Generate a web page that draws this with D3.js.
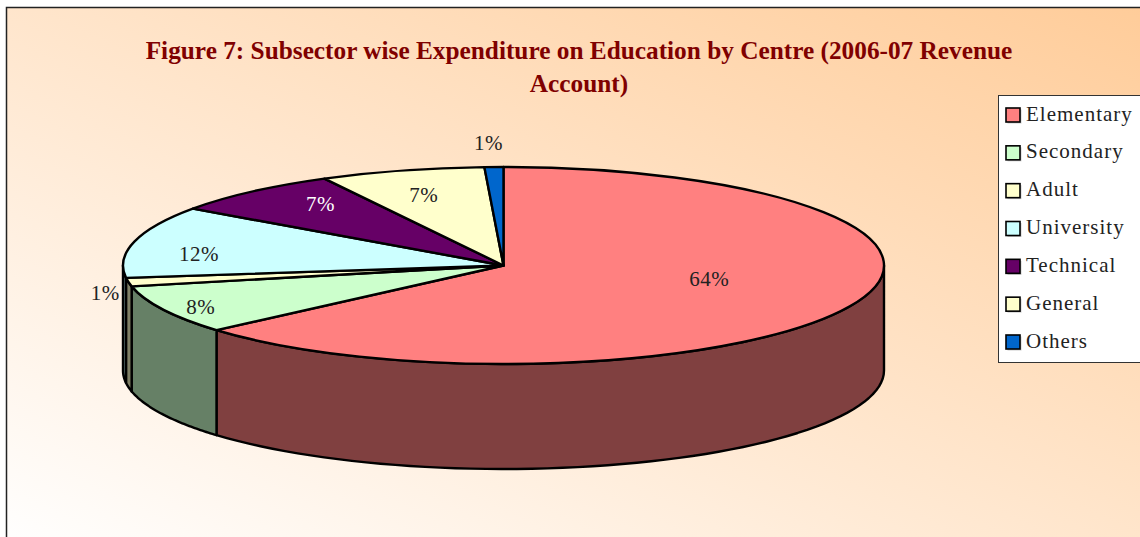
<!DOCTYPE html>
<html>
<head>
<meta charset="utf-8">
<script src="https://d3js.org/d3.v7.min.js"></script>
<style>
    html, body { margin: 0; padding: 0; background: #fff; overflow: hidden; }
    text { font-family: "Liberation Serif", serif; }
</style>
</head>
<body>
<div id="chart"></div>
<script>
const categories = ["Elementary", "Secondary", "Adult", "University", "Technical", "General", "Others"];
const values = [63.6, 8.0, 1.4, 11.8, 7.4, 7.0, 0.8];
const colors = ["#ff8080", "#ccffcc", "#ffffcc", "#ccffff", "#660066", "#ffffcc", "#0066cc"];
const labelColors = ["#222", "#222", "#222", "#222", "#fff", "#222", "#222"];
const titleLines = ["Figure 7: Subsector wise Expenditure on Education by Centre (2006-07 Revenue", "Account)"];

// label placement: fraction of the radius along the slice middle, then a small nudge
const labelRadius = [0.594, 0.89, 1.062, 0.825, 0.727, 0.786, 1.26];
const labelNudge = [[0, -11], [0, 2], [0, 9], [0, 8], [0, -8], [0, 4], [-3, 1]];

const width = 1140, height = 537;
const cx = 503.5, cy = 265.5, rx = 380.5, ry = 98.5, depth = 105;

const svg = d3.select("#chart").append("svg")
    .attr("width", width)
    .attr("height", height)
    .style("display", "block");

let grad = svg.append("defs").append("linearGradient")
    .attr("id", "bg")
    .attr("x1", 1).attr("y1", 0)
    .attr("x2", 0).attr("y2", 1);
grad.append("stop").attr("offset", "0%").attr("stop-color", "#ffcc99");
grad.append("stop").attr("offset", "100%").attr("stop-color", "#ffffff");

svg.append("rect")
    .attr("x", 6.5).attr("y", 7.5)
    .attr("width", width + 10).attr("height", height + 10)
    .attr("fill", "url(#bg)")
    .attr("stroke", "#222")
    .attr("stroke-width", 1.5);

svg.selectAll("text.title")
    .data(titleLines)
    .join("text")
    .attr("class", "title")
    .attr("x", 579)
    .attr("y", (d, i) => 59 + i * 33)
    .attr("text-anchor", "middle")
    .attr("fill", "#800000")
    .attr("font-weight", "bold")
    .attr("font-size", 25.3)
    .text(d => d);

const slices = d3.pie().sort(null).value(d => d)(values);

function ellipsePoint(angle, drop){
    return [cx + rx * Math.sin(angle), cy - ry * Math.cos(angle) + drop];
}

function halfColor(c){
    let r = d3.rgb(c);
    return d3.rgb(r.r / 2, r.g / 2, r.b / 2).formatHex();
}

// side wall, only for the part of a slice on the front half of the ellipse
function wallPath(s){
    let a0 = Math.max(s.startAngle, Math.PI / 2);
    let a1 = Math.min(s.endAngle, Math.PI * 1.5);
    if(a1 <= a0){
        return null;
    }
    let steps = d3.range(0, 61).map(i => a0 + (a1 - a0) * i / 60);
    let pts = steps.map(a => ellipsePoint(a, 0))
        .concat(steps.slice().reverse().map(a => ellipsePoint(a, depth)));
    return d3.line()(pts) + "Z";
}

svg.append("g").selectAll("path")
    .data(slices.filter(s => wallPath(s)))
    .join("path")
    .attr("d", wallPath)
    .attr("fill", d => halfColor(colors[d.index]))
    .attr("stroke", "#000")
    .attr("stroke-width", 2.4)
    .attr("stroke-linejoin", "round");

let arc = d3.arc().innerRadius(0).outerRadius(rx);

svg.append("g")
    .attr("transform", "translate(" + cx + "," + cy + ") scale(1," + (ry / rx) + ")")
    .selectAll("path")
    .data(slices)
    .join("path")
    .attr("d", arc)
    .attr("fill", d => colors[d.index])
    .attr("stroke", "#000")
    .attr("stroke-width", 2.4)
    .attr("stroke-linejoin", "round")
    .attr("vector-effect", "non-scaling-stroke");

svg.append("g").selectAll("text")
    .data(slices)
    .join("text")
    .attr("x", d => cx + rx * labelRadius[d.index] * Math.sin((d.startAngle + d.endAngle) / 2) + labelNudge[d.index][0])
    .attr("y", d => cy - ry * labelRadius[d.index] * Math.cos((d.startAngle + d.endAngle) / 2) + labelNudge[d.index][1])
    .attr("dy", "0.35em")
    .attr("text-anchor", "middle")
    .attr("font-size", 21)
    .attr("letter-spacing", 0.5)
    .attr("fill", d => labelColors[d.index])
    .text(d => Math.round(d.value) + "%");

svg.append("rect")
    .attr("x", 998.5).attr("y", 95.5)
    .attr("width", 160).attr("height", 267)
    .attr("fill", "#fff")
    .attr("stroke", "#333")
    .attr("stroke-width", 1);

let rowY = d3.scalePoint().domain(categories).range([115, 342]);

let rows = svg.append("g").selectAll("g")
    .data(categories)
    .join("g")
    .attr("transform", d => "translate(1006," + rowY(d) + ")");

rows.append("rect")
    .attr("x", 1.5).attr("y", -5.5)
    .attr("width", 14).attr("height", 14)
    .attr("fill", "#ccc");

rows.append("rect")
    .attr("x", 0).attr("y", -7)
    .attr("width", 14).attr("height", 14)
    .attr("fill", (d, i) => colors[i])
    .attr("stroke", "#000")
    .attr("stroke-width", 1.6);

rows.append("text")
    .attr("x", 20)
    .attr("y", 5.5)
    .attr("font-size", 21)
    .attr("letter-spacing", 1)
    .attr("fill", "#222")
    .text(d => d);
</script>
</body>
</html>
